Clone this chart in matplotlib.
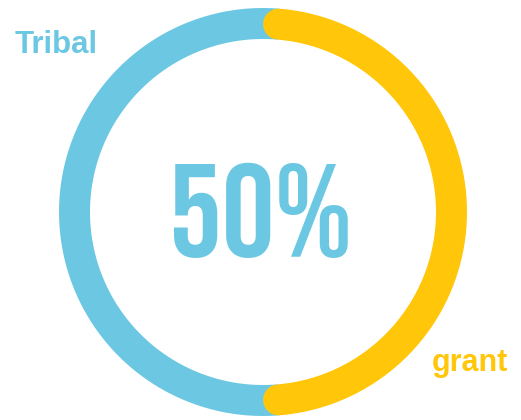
import numpy as np
import matplotlib
matplotlib.use("Agg")
import matplotlib.pyplot as plt

labels = ["Tribal", "grant"]
shares = [50, 50]
center_text = "50%"

blue = "#6CC8E2"
yellow = "#FFC60A"

fig = plt.figure(figsize=(5.21, 4.2), dpi=100)
ax = fig.add_axes([0, 0, 1, 1])
ax.set_xlim(0, 521)
ax.set_ylim(420, 0)
ax.axis("off")

cx, cy, r = 263, 212, 188.5
lw = 31 * 72 / 100  # ring thickness in points
total = sum(shares)
cap = np.degrees((31 / 2) / r)

def arc(start, sweep):
    t = np.radians(np.linspace(start, start + sweep, 400))
    return cx + r * np.cos(t), cy - r * np.sin(t)

# blue share runs anticlockwise from the top, tucked under the yellow caps
x, y = arc(90 - cap, 360 * shares[0] / total + 2 * cap)
ax.plot(x, y, color=blue, lw=lw, solid_capstyle="butt")

# yellow share runs clockwise from the top, round caps over the blue
x, y = arc(90 - cap, -(360 * shares[1] / total - 2 * cap))
ax.plot(x, y, color=yellow, lw=lw, solid_capstyle="round")

ax.text(261, 257, center_text, color=blue, fontsize=95, family="Bebas Neue",
        ha="center", va="baseline")
ax.text(15, 53, labels[0], color=blue, fontsize=22.5, family="Liberation Sans",
        weight="bold", ha="left", va="baseline")
ax.text(432, 371, labels[1], color=yellow, fontsize=22, family="Liberation Sans",
        weight="bold", ha="left", va="baseline")

fig.savefig("out.png")
